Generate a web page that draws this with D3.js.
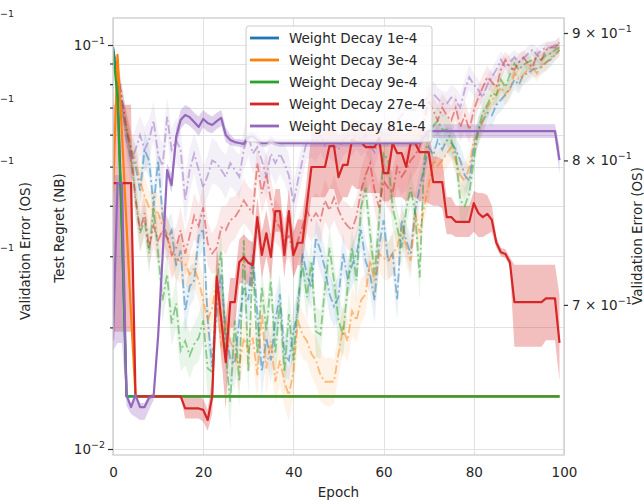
<!DOCTYPE html>
<html><head><meta charset="utf-8">
<script src="https://cdn.jsdelivr.net/npm/d3@7"></script>
<style>
body{margin:0;background:#fff}
svg{display:block}
text{font-family:"DejaVu Sans",sans-serif;fill:#262626}
</style>
</head><body>
<svg id="c" width="644" height="501"></svg>
<script>
// ---------------- DATA ----------------
const epochs = [0,1,2,3,4,5,6,7,8,9,10,11,12,13,14,15,16,17,18,19,20,21,22,23,24,25,26,27,28,29,30,31,32,33,34,35,36,37,38,39,40,41,42,43,44,45,46,47,48,49,50,51,52,53,54,55,56,57,58,59,60,61,62,63,64,65,66,67,68,69,70,71,72,73,74,75,76,77,78,79,80,81,82,83,84,85,86,87,88,89,90,91,92,93,94,95,96,97,98,99];
const seriesLabels = ["Weight Decay 1e-4","Weight Decay 3e-4","Weight Decay 9e-4","Weight Decay 27e-4","Weight Decay 81e-4"];
const xTicks = [0,20,40,60,80,100];
const leftMajorTicks = [0.01,0.1];
const leftMinorTicks = [0.02,0.03,0.04,0.05,0.06,0.07,0.08,0.09];
const rightTicks = [0.7,0.8,0.9];
const rightTickLabels = ["7","8","9"];

// Test regret (NB), left axis, solid lines
const regret1e4 = [.099,.080,.035,.0135,.0135,.0135,.0135,.0135,.0135,.0135,
.0135,.0135,.0135,.0135,.0135,.0135,.0135,.0135,.0135,.0135,
.0135,.0135,.0135,.0135,.0135,.0135,.0135,.0135,.0135,.0135,
.0135,.0135,.0135,.0135,.0135,.0135,.0135,.0135,.0135,.0135,
.0135,.0135,.0135,.0135,.0135,.0135,.0135,.0135,.0135,.0135,
.0135,.0135,.0135,.0135,.0135,.0135,.0135,.0135,.0135,.0135,
.0135,.0135,.0135,.0135,.0135,.0135,.0135,.0135,.0135,.0135,
.0135,.0135,.0135,.0135,.0135,.0135,.0135,.0135,.0135,.0135,
.0135,.0135,.0135,.0135,.0135,.0135,.0135,.0135,.0135,.0135,
.0135,.0135,.0135,.0135,.0135,.0135,.0135,.0135,.0135,.0135];
const regret3e4 = [.043,.0945,.060,.0358,.0215,.0135,.0135,.0135,.0135,.0135,
.0135,.0135,.0135,.0135,.0135,.0135,.0135,.0135,.0135,.0135,
.0135,.0135,.0135,.0135,.0135,.0135,.0135,.0135,.0135,.0135,
.0135,.0135,.0135,.0135,.0135,.0135,.0135,.0135,.0135,.0135,
.0135,.0135,.0135,.0135,.0135,.0135,.0135,.0135,.0135,.0135,
.0135,.0135,.0135,.0135,.0135,.0135,.0135,.0135,.0135,.0135,
.0135,.0135,.0135,.0135,.0135,.0135,.0135,.0135,.0135,.0135,
.0135,.0135,.0135,.0135,.0135,.0135,.0135,.0135,.0135,.0135,
.0135,.0135,.0135,.0135,.0135,.0135,.0135,.0135,.0135,.0135,
.0135,.0135,.0135,.0135,.0135,.0135,.0135,.0135,.0135,.0135];
const regret9e4 = [.097,.074,.034,.0135,.0135,.0135,.0135,.0135,.0135,.0135,
.0135,.0135,.0135,.0135,.0135,.0135,.0135,.0135,.0135,.0135,
.0135,.0135,.0135,.0135,.0135,.0135,.0135,.0135,.0135,.0135,
.0135,.0135,.0135,.0135,.0135,.0135,.0135,.0135,.0135,.0135,
.0135,.0135,.0135,.0135,.0135,.0135,.0135,.0135,.0135,.0135,
.0135,.0135,.0135,.0135,.0135,.0135,.0135,.0135,.0135,.0135,
.0135,.0135,.0135,.0135,.0135,.0135,.0135,.0135,.0135,.0135,
.0135,.0135,.0135,.0135,.0135,.0135,.0135,.0135,.0135,.0135,
.0135,.0135,.0135,.0135,.0135,.0135,.0135,.0135,.0135,.0135,
.0135,.0135,.0135,.0135,.0135,.0135,.0135,.0135,.0135,.0135];
const regret27e4 = [.0455,.0455,.0455,.0455,.0455,.0135,.0135,.0135,.0135,.0135,
.0135,.0135,.0135,.0135,.0135,.0135,.0126,.0126,.0126,.0126,
.0125,.0118,.0135,.0267,.0209,.0164,.0231,.0231,.0290,.0299,
.0289,.0285,.0375,.0302,.0342,.0299,.0388,.0388,.0302,.0388,
.0302,.0324,.0324,.0402,.0499,.0499,.0499,.0499,.0562,.0562,
.0471,.0505,.0505,.0582,.0575,.0575,.0559,.0559,.0559,.0588,
.0482,.0482,.0572,.0540,.0540,.0499,.0572,.0572,.0543,.0543,
.0543,.0458,.0458,.0458,.0375,.0375,.0365,.0365,.0365,.0365,
.0406,.0384,.0375,.0382,.0369,.0324,.0307,.0304,.0290,.0231,
.0231,.0231,.0231,.0231,.0231,.0231,.0236,.0236,.0236,.0183];
const regretHi27e4 = [.0711,.0711,.0711,.0711,.0711,.0135,.0135,.0135,.0135,.0135,
.0135,.0135,.0135,.0135,.0135,.0135,.0135,.0135,.0135,.0135,
.0133,.0125,.0150,.0320,.0250,.0210,.0265,.0265,.0330,.0340,
.0330,.0325,.0420,.0345,.0390,.0340,.0440,.0440,.0345,.0440,
.0345,.0370,.0370,.0470,.0610,.0610,.0610,.0610,.0640,.0640,
.0600,.0610,.0610,.0650,.0650,.0650,.0630,.0630,.0630,.0650,
.0610,.0610,.0640,.0620,.0620,.0600,.0640,.0640,.0620,.0620,
.0610,.0530,.0530,.0520,.0420,.0420,.0400,.0400,.0400,.0400,
.0435,.0430,.0430,.0425,.0400,.0335,.0315,.0312,.0298,.0286,
.0286,.0286,.0286,.0286,.0286,.0286,.0286,.0286,.0286,.0240];
const regretLo27e4 = [.0195,.0195,.0195,.0195,.0195,.0135,.0135,.0135,.0135,.0135,
.0135,.0135,.0135,.0135,.0135,.0135,.0119,.0119,.0119,.0119,
.0117,.0111,.0122,.0220,.0170,.0125,.0200,.0200,.0255,.0262,
.0255,.0250,.0335,.0265,.0300,.0262,.0345,.0345,.0265,.0345,
.0265,.0285,.0285,.0350,.0420,.0420,.0420,.0420,.0440,.0440,
.0400,.0420,.0420,.0450,.0440,.0440,.0430,.0430,.0430,.0430,
.0410,.0410,.0420,.0420,.0420,.0410,.0420,.0420,.0410,.0410,
.0405,.0400,.0400,.0395,.0340,.0340,.0335,.0335,.0335,.0335,
.0345,.0335,.0335,.0340,.0345,.0315,.0300,.0297,.0283,.0179,
.0179,.0179,.0179,.0179,.0179,.0179,.0186,.0186,.0186,.0148];
const regret81e4 = [.0186,.0455,.0455,.0136,.0127,.0136,.0127,.0127,.0134,.0135,
.0190,.0300,.0490,.0450,.0592,.0652,.0671,.0663,.0645,.0627,
.0656,.0641,.0634,.0648,.0660,.0599,.0582,.0575,.0572,.0569,
.0592,.0595,.0582,.0572,.0572,.0582,.0575,.0572,.0572,.0572,
.0572,.0572,.0572,.0572,.0572,.0572,.0572,.0572,.0572,.0572,
.0572,.0572,.0572,.0572,.0572,.0572,.0572,.0572,.0572,.0572,
.0572,.0572,.0572,.0572,.0572,.0572,.0572,.0572,.0572,.0592,
.0612,.0612,.0612,.0612,.0612,.0612,.0612,.0612,.0612,.0612,
.0612,.0612,.0612,.0612,.0612,.0612,.0612,.0612,.0612,.0612,
.0612,.0612,.0612,.0612,.0612,.0612,.0612,.0612,.0612,.0519];
const regretHi81e4 = [.0477,.0477,.0477,.0138,.0130,.0138,.0130,.0130,.0136,.0137,
.0195,.0310,.0510,.0480,.0620,.0690,.0710,.0700,.0680,.0665,
.0690,.0675,.0665,.0680,.0690,.0625,.0600,.0585,.0585,.0582,
.0605,.0608,.0595,.0585,.0585,.0595,.0587,.0585,.0585,.0585,
.0585,.0585,.0585,.0585,.0585,.0585,.0585,.0585,.0585,.0585,
.0585,.0585,.0585,.0585,.0585,.0585,.0585,.0585,.0585,.0585,
.0585,.0585,.0585,.0585,.0585,.0585,.0585,.0585,.0585,.0610,
.0637,.0637,.0637,.0637,.0637,.0637,.0637,.0637,.0637,.0637,
.0637,.0637,.0637,.0637,.0637,.0637,.0637,.0637,.0637,.0637,
.0637,.0637,.0637,.0637,.0637,.0637,.0637,.0637,.0637,.0560];
const regretLo81e4 = [.0175,.0183,.0183,.0128,.0122,.0120,.0118,.0118,.0125,.0132,
.0185,.0290,.0470,.0430,.0560,.0620,.0640,.0630,.0615,.0595,
.0625,.0610,.0605,.0620,.0630,.0575,.0565,.0562,.0560,.0557,
.0580,.0583,.0570,.0560,.0560,.0570,.0563,.0560,.0560,.0560,
.0560,.0560,.0560,.0560,.0560,.0560,.0560,.0560,.0560,.0560,
.0560,.0560,.0560,.0560,.0560,.0560,.0560,.0560,.0560,.0560,
.0560,.0560,.0560,.0560,.0560,.0560,.0560,.0560,.0560,.0575,
.0589,.0589,.0589,.0589,.0589,.0589,.0589,.0589,.0589,.0589,
.0589,.0589,.0589,.0589,.0589,.0589,.0589,.0589,.0589,.0589,
.0589,.0589,.0589,.0589,.0589,.0589,.0589,.0589,.0589,.0480];

// Validation error (OS), right axis, dash-dot lines
const valErr1e4 = [.886,.866,.846,.823,.808,.796,.778,.808,.800,.767,
.800,.760,.743,.750,.726,.736,.696,.712,.716,.746,
.751,.690,.661,.696,.720,.683,.666,.663,.690,.711,
.703,.734,.694,.658,.679,.665,.690,.707,.669,.665,
.683,.696,.734,.720,.711,.745,.736,.724,.707,.699,
.705,.734,.718,.726,.734,.750,.729,.720,.703,.739,
.757,.729,.734,.703,.757,.743,.734,.764,.780,.795,
.810,.804,.815,.808,.815,.813,.808,.800,.789,.785,
.810,.823,.830,.836,.834,.842,.846,.850,.855,.862,
.858,.866,.867,.870,.871,.872,.876,.878,.882,.886];
const valErr3e4 = [.886,.866,.843,.826,.810,.800,.785,.774,.766,.764,
.762,.753,.748,.734,.730,.729,.727,.720,.724,.716,
.703,.690,.698,.716,.673,.690,.677,.669,.661,.679,
.671,.679,.656,.694,.660,.677,.652,.665,.652,.644,
.658,.690,.681,.677,.669,.665,.656,.652,.652,.652,
.669,.685,.677,.696,.690,.703,.707,.729,.716,.734,
.731,.729,.734,.738,.752,.739,.729,.762,.748,.766,
.782,.800,.796,.800,.805,.810,.800,.789,.785,.795,
.815,.820,.830,.840,.846,.850,.856,.851,.854,.867,
.862,.866,.870,.872,.867,.874,.875,.880,.882,.886];
const valErr9e4 = [.888,.856,.838,.823,.800,.774,.748,.757,.734,.766,
.734,.703,.720,.688,.701,.671,.677,.668,.675,.679,
.690,.660,.658,.716,.736,.669,.640,.690,.652,.743,
.658,.729,.669,.712,.683,.716,.669,.701,.658,.694,
.665,.703,.727,.705,.729,.683,.681,.711,.738,.716,
.690,.681,.711,.738,.716,.766,.780,.748,.720,.757,
.805,.800,.766,.752,.738,.764,.780,.762,.718,.800,
.820,.826,.830,.823,.823,.815,.805,.771,.767,.776,
.800,.823,.836,.842,.851,.850,.862,.856,.866,.875,
.870,.874,.876,.878,.879,.878,.882,.883,.886,.888];
const valErr27e4 = [.886,.870,.846,.823,.808,.771,.750,.762,.738,.753,
.743,.750,.745,.733,.738,.750,.734,.746,.760,.753,
.766,.741,.734,.738,.752,.750,.757,.759,.764,.771,
.766,.762,.798,.776,.790,.771,.757,.752,.743,.746,
.734,.743,.752,.764,.757,.762,.757,.771,.764,.773,
.764,.757,.753,.750,.760,.778,.789,.798,.778,.766,
.785,.780,.776,.795,.788,.793,.800,.804,.810,.830,
.846,.838,.830,.840,.834,.830,.840,.825,.834,.823,
.838,.848,.856,.864,.860,.856,.870,.878,.872,.870,
.876,.880,.875,.872,.882,.878,.886,.888,.888,.892];
const valErr81e4 = [.886,.866,.846,.815,.800,.808,.819,.808,.815,.830,
.804,.796,.833,.808,.815,.808,.771,.793,.805,.793,
.780,.789,.800,.798,.793,.788,.798,.793,.788,.808,
.819,.805,.810,.800,.788,.805,.798,.805,.798,.789,
.769,.785,.800,.815,.815,.813,.819,.811,.815,.811,
.808,.815,.819,.815,.819,.815,.819,.811,.806,.817,
.823,.823,.826,.830,.834,.840,.838,.838,.842,.846,
.848,.851,.847,.843,.843,.848,.846,.840,.854,.864,
.858,.854,.848,.858,.864,.870,.878,.872,.876,.880,
.876,.879,.883,.886,.882,.886,.888,.888,.890,.892];

// spread (std) of validation error across runs
const valStd1e4 = [.004,.008,.010,.012,.012,.014,.012,.014,.012,.014,
.013,.012,.014,.012,.013,.012,.014,.013,.012,.014,
.016,.014,.012,.015,.014,.012,.014,.015,.013,.014,
.016,.014,.012,.015,.013,.014,.016,.013,.014,.012,
.015,.013,.014,.016,.014,.013,.015,.012,.014,.013,
.015,.014,.012,.014,.016,.013,.014,.012,.015,.014,
.013,.012,.014,.013,.015,.012,.013,.011,.012,.010,
.011,.010,.011,.009,.010,.011,.010,.011,.012,.010,
.009,.010,.009,.008,.009,.008,.009,.008,.007,.008,
.007,.008,.007,.006,.007,.006,.007,.006,.005,.005];
const valStd3e4 = [.005,.009,.011,.012,.013,.012,.013,.014,.012,.013,
.014,.013,.012,.014,.013,.015,.014,.012,.013,.014,
.015,.013,.014,.016,.013,.015,.014,.013,.015,.014,
.013,.015,.014,.012,.016,.014,.013,.015,.014,.016,
.014,.016,.015,.013,.014,.015,.016,.014,.015,.013,
.014,.015,.013,.016,.014,.015,.013,.014,.016,.013,
.014,.013,.015,.012,.014,.013,.012,.014,.012,.011,
.012,.011,.010,.012,.011,.010,.011,.012,.013,.011,
.010,.009,.010,.009,.008,.009,.008,.009,.008,.007,
.008,.007,.007,.006,.007,.006,.006,.005,.005,.005];
const valStd9e4 = [.005,.008,.010,.013,.012,.014,.013,.012,.015,.013,
.014,.015,.013,.014,.016,.013,.015,.014,.013,.015,
.014,.016,.015,.013,.014,.016,.017,.014,.016,.015,
.016,.014,.015,.013,.016,.014,.015,.016,.014,.015,
.016,.014,.013,.015,.014,.016,.015,.013,.014,.015,
.016,.015,.014,.013,.015,.014,.013,.015,.016,.014,
.013,.014,.015,.013,.014,.012,.013,.014,.015,.012,
.011,.010,.011,.012,.011,.012,.013,.014,.013,.012,
.011,.010,.009,.010,.009,.008,.009,.008,.007,.008,
.007,.007,.006,.007,.006,.006,.005,.006,.005,.005];
const valStd27e4 = [.005,.008,.011,.012,.014,.013,.015,.014,.013,.015,
.016,.014,.015,.017,.014,.016,.015,.014,.016,.015,
.017,.015,.014,.016,.015,.017,.016,.015,.014,.016,
.015,.016,.014,.015,.017,.016,.015,.014,.016,.015,
.016,.015,.014,.016,.015,.014,.016,.015,.014,.016,
.015,.014,.016,.015,.014,.016,.015,.014,.015,.016,
.014,.015,.016,.014,.013,.015,.014,.013,.012,.013,
.012,.011,.012,.011,.012,.011,.010,.011,.012,.011,
.010,.009,.010,.009,.008,.009,.008,.007,.008,.007,
.007,.006,.007,.006,.006,.005,.006,.005,.005,.005];
const valStd81e4 = [.005,.009,.012,.014,.015,.016,.015,.017,.016,.015,
.016,.017,.015,.016,.017,.016,.018,.016,.015,.017,
.016,.015,.017,.016,.015,.016,.017,.015,.016,.015,
.016,.015,.014,.016,.015,.014,.016,.015,.014,.016,
.015,.014,.013,.014,.013,.014,.013,.012,.013,.012,
.013,.012,.013,.012,.011,.012,.013,.012,.011,.012,
.011,.012,.011,.010,.011,.010,.011,.010,.009,.010,
.009,.010,.009,.010,.009,.010,.009,.010,.009,.010,
.009,.008,.009,.008,.007,.008,.007,.008,.007,.006,
.007,.006,.006,.005,.006,.005,.005,.005,.004,.004];

// ---------------- CHART ----------------
const colors = ["#1f77b4","#ff7f0e","#2ca02c","#d62728","#9467bd"];
const series = [
  {regret: regret1e4, val: valErr1e4, std: valStd1e4},
  {regret: regret3e4, val: valErr3e4, std: valStd3e4},
  {regret: regret9e4, val: valErr9e4, std: valStd9e4},
  {regret: regret27e4, lo: regretLo27e4, hi: regretHi27e4, val: valErr27e4, std: valStd27e4},
  {regret: regret81e4, lo: regretLo81e4, hi: regretHi81e4, val: valErr81e4, std: valStd81e4}
];

const L = 113, R = 564, T = 18, B = 455;
const svg = d3.select("#c");
const x = d3.scaleLinear().domain([0,100]).range([L,R]);
const yL = d3.scaleLog().domain([0.009664,0.11665]).range([B,T]);
const yR = d3.scaleLog().domain([0.6093,0.91257]).range([B,T]);

svg.append("defs").append("clipPath").attr("id","pa")
  .append("rect").attr("x",L).attr("y",T).attr("width",R-L).attr("height",B-T);

// grid
const grid = svg.append("g").attr("stroke","#e2e2e2").attr("stroke-width",1);
grid.selectAll(".gh").data(leftMajorTicks.concat(leftMinorTicks)).join("line")
  .attr("x1",L).attr("x2",R).attr("y1",d=>Math.round(yL(d))+0.5).attr("y2",d=>Math.round(yL(d))+0.5);
grid.selectAll(".gv").data(xTicks).join("line")
  .attr("y1",T).attr("y2",B).attr("x1",d=>Math.round(x(d))+0.5).attr("x2",d=>Math.round(x(d))+0.5);

const plot = svg.append("g").attr("clip-path","url(#pa)");

// validation-error bands
series.forEach((s,k)=>{
  const area = d3.area().x((d,i)=>x(epochs[i]))
    .y0((d,i)=>yR(d - s.std[i])).y1((d,i)=>yR(d + s.std[i]));
  plot.append("path").datum(s.val).attr("d",area)
    .attr("fill",colors[k]).attr("fill-opacity",0.1).attr("stroke","none");
});
// regret bands
series.forEach((s,k)=>{
  if(!s.lo) return;
  const area = d3.area().x((d,i)=>x(epochs[i]))
    .y0((d,i)=>yL(s.lo[i])).y1((d,i)=>yL(s.hi[i]));
  plot.append("path").datum(s.regret).attr("d",area)
    .attr("fill",colors[k]).attr("fill-opacity",0.3).attr("stroke","none");
});
// validation-error lines (dash-dot)
series.forEach((s,k)=>{
  const line = d3.line().x((d,i)=>x(epochs[i])).y(d=>yR(d));
  plot.append("path").datum(s.val).attr("d",line)
    .attr("fill","none").attr("stroke",colors[k]).attr("stroke-width",1.8)
    .attr("stroke-opacity",0.5).attr("stroke-dasharray","9,3,2,3");
});
// regret lines (solid)
series.forEach((s,k)=>{
  const line = d3.line().x((d,i)=>x(epochs[i])).y(d=>yL(d));
  plot.append("path").datum(s.regret).attr("d",line)
    .attr("fill","none").attr("stroke",colors[k]).attr("stroke-width",2.2)
    .attr("stroke-linejoin","round");
});

// frame
svg.append("rect").attr("x",L).attr("y",T).attr("width",R-L).attr("height",B-T)
  .attr("fill","none").attr("stroke","#cccccc").attr("stroke-width",1.3);

// left axis ticks
const axL = svg.append("g").attr("transform",`translate(${L},0)`);
axL.call(d3.axisLeft(yL).tickValues(leftMajorTicks).tickSize(5).tickFormat(""));
axL.call(g=>g.select(".domain").remove());
const axLm = svg.append("g").attr("transform",`translate(${L},0)`);
axLm.call(d3.axisLeft(yL).tickValues(leftMinorTicks).tickSize(3).tickFormat(""));
axLm.call(g=>g.select(".domain").remove());
svg.selectAll(".tick line").attr("stroke","#333").attr("stroke-width",1.2);

// left tick labels (10^-1, 10^-2)
leftMajorTicks.forEach(v=>{
  const t = svg.append("text").attr("x",105).attr("y",yL(v)+5).attr("text-anchor","end")
    .style("font-size","13.5px");
  t.append("tspan").text("10");
  t.append("tspan").attr("dy",-6).style("font-size","9.5px").text("−" + Math.round(-Math.log10(v)));
});

// right axis
const axR = svg.append("g").attr("transform",`translate(${R},0)`);
axR.call(d3.axisRight(yR).tickValues(rightTicks).tickSize(4).tickFormat(""));
axR.call(g=>g.select(".domain").remove());
axR.selectAll(".tick line").attr("stroke","#333").attr("stroke-width",1.2);
rightTicks.forEach((v,i)=>{
  const t = svg.append("text").attr("x",572).attr("y",yR(v)+5).style("font-size","13.5px");
  t.append("tspan").text(rightTickLabels[i] + " × 10");
  t.append("tspan").attr("dy",-6).style("font-size","9.5px").text("−1");
});

// x axis
const axB = svg.append("g").attr("transform",`translate(0,${B})`);
axB.call(d3.axisBottom(x).tickValues(xTicks).tickSize(0).tickPadding(12));
axB.select(".domain").remove();
axB.selectAll("text").style("font-size","13.5px").attr("fill","#262626")
  .style("font-family","'DejaVu Sans',sans-serif");

// axis labels
svg.append("text").attr("x",(L+R)/2).attr("y",497).attr("text-anchor","middle")
  .style("font-size","13.5px").text("Epoch");
svg.append("text").attr("transform","translate(64,228) rotate(-90)").attr("text-anchor","middle")
  .style("font-size","13.5px").text("Test Regret (NB)");
svg.append("text").attr("transform","translate(642,236) rotate(-90)").attr("text-anchor","middle")
  .style("font-size","13.5px").text("Validation Error (OS)");
// neighbouring panel, cut off at left edge
svg.append("text").attr("transform","translate(30,251) rotate(-90)").attr("text-anchor","middle")
  .style("font-size","13.5px").text("Validation Error (OS)");
[13,98,160,247].forEach(yy=>{
  svg.append("text").attr("x",0).attr("y",yy+3.5).style("font-size","9.5px").text("−1");
});

// legend
const lg = svg.append("g");
lg.append("rect").attr("x",246).attr("y",26).attr("width",186).attr("height",116).attr("rx",3)
  .attr("fill","#fff").attr("fill-opacity",0.8).attr("stroke","#cccccc").attr("stroke-width",1);
seriesLabels.forEach((lab,i)=>{
  const yy = 38 + 22*i;
  lg.append("line").attr("x1",250).attr("x2",279).attr("y1",yy).attr("y2",yy)
    .attr("stroke",colors[i]).attr("stroke-width",2.8);
  lg.append("text").attr("x",289).attr("y",yy+5).style("font-size","13.5px").text(lab);
});
</script>
</body></html>
